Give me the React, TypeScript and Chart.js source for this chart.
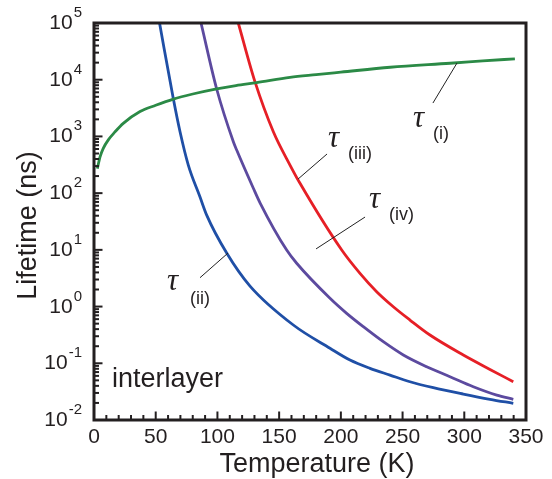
import React, { useEffect, useRef } from "react";
import { Chart, registerables } from "chart.js";

Chart.register(...registerables);

// ---- data (temperature in K, lifetime in ns) ----
const tempI = [2.7, 4.9, 7.5, 11.6, 17, 23.7, 37.3, 50, 64.3, 80, 99.4, 115, 131.8, 158.8, 180, 200, 240, 288.5, 315, 341];
const tauI = [270, 436, 617, 871, 1200, 1700, 2750, 3550, 4560, 5600, 6900, 7900, 8900, 11000, 12300, 13600, 16600, 19500, 21400, 23400];

const tempII = [53.1, 64.2, 69.7, 76.4, 85.9, 91.3, 107.5, 126.4, 161.5, 191.2, 207.4, 223.6, 239.8, 256, 274.9, 299.2, 320.8, 339.7];
const tauII = [100000, 4700, 1210, 313, 85.5, 41, 8.8, 2.3, 0.473, 0.184, 0.114, 0.0815, 0.062, 0.0473, 0.0372, 0.0287, 0.0232, 0.0197];

const tempIII = [116.9, 130.4, 145.3, 158.8, 166.9, 200.7, 215.5, 229, 242.5, 256, 272.2, 299.2, 320.8, 339.7];
const tauIII = [100000, 9230, 1210, 313, 149, 9.93, 3.85, 1.83, 0.993, 0.579, 0.315, 0.14, 0.078, 0.0473];

const tempIV = [86.7, 99.4, 112.9, 115.6, 129.1, 134.5, 156.1, 164.2, 191.2, 204.7, 218.2, 234.4, 250.6, 269.5, 288.4, 307.3, 326.3, 339.7];
const tauIV = [100000, 6860, 807, 575, 122, 67.6, 9.9, 5.8, 1.4, 0.76, 0.442, 0.24, 0.14, 0.0869, 0.058, 0.0386, 0.0275, 0.0232];

const xTicks = [0, 50, 100, 150, 200, 250, 300, 350];
const xTickLabels = ["0", "50", "100", "150", "200", "250", "300", "350"];
const yExponents = [-2, -1, 0, 1, 2, 3, 4, 5];
const yExponentLabels = ["-2", "-1", "0", "1", "2", "3", "4", "5"];

// annotation anchors in data space: [T, lifetime]
const labelSubs = ["(i)", "(ii)", "(iii)", "(iv)"];
const labelTauAt = [[258.4, 1470], [59.1, 1.96], [189.6, 650], [222.8, 54.7]];
const labelSubAt = [[274.6, 900], [77.8, 1.11], [205.8, 400], [239, 33.6]];
const leaderFrom = [[274.6, 3880], [85.9, 3.23], [165.3, 177], [179.9, 10.4]];
const leaderTo = [[294.1, 19700], [108.6, 8.8], [188.8, 490], [219.6, 37.9]];
const panelLabel = "interlayer";
const panelLabelAt = [14.6, 0.0381];

const xTitle = "Temperature (K)";
const yTitle = "Lifetime (ns)";

const INK = "#231f20";
const SANS = '"Liberation Sans", Arial, Helvetica, sans-serif';

const pts = (xs: number[], ys: number[]) => xs.map((x, i) => ({ x, y: ys[i] }));

const framePlugin = {
  id: "framePlugin",
  afterDatasetsDraw(chart: any) {
    const { ctx, chartArea: a } = chart;
    const xs = chart.scales.x;
    const ys = chart.scales.y;
    ctx.save();
    ctx.strokeStyle = INK;
    ctx.fillStyle = INK;
    ctx.lineCap = "butt";

    // inward ticks: left (log) axis
    ctx.lineWidth = 2;
    for (let e = -2; e < 5; e++) {
      for (let m = 1; m < 10; m++) {
        const py = ys.getPixelForValue(m * Math.pow(10, e));
        const len = m === 1 ? 8.5 : 5;
        ctx.beginPath();
        ctx.moveTo(a.left, py);
        ctx.lineTo(a.left + len, py);
        ctx.stroke();
      }
    }
    // bottom axis ticks
    for (let t = 0; t <= 350; t += 10) {
      const px = xs.getPixelForValue(t);
      const len = t % 50 === 0 ? 8.5 : 5;
      ctx.beginPath();
      ctx.moveTo(px, a.bottom);
      ctx.lineTo(px, a.bottom - len);
      ctx.stroke();
    }

    // frame
    ctx.lineWidth = 3;
    ctx.strokeRect(a.left, a.top, a.right - a.left, a.bottom - a.top);

    // x tick labels
    ctx.font = `21px ${SANS}`;
    ctx.textAlign = "center";
    ctx.textBaseline = "alphabetic";
    xTicks.forEach((t, i) => {
      ctx.fillText(xTickLabels[i], xs.getPixelForValue(t), a.bottom + 23);
    });

    // y tick labels with superscript exponents
    const right = a.left - 12;
    yExponents.forEach((e, i) => {
      const py = ys.getPixelForValue(Math.pow(10, e));
      ctx.font = `15px ${SANS}`;
      const ew = ctx.measureText(yExponentLabels[i]).width;
      ctx.textAlign = "left";
      ctx.fillText(yExponentLabels[i], right - ew, py - 6);
      ctx.font = `21px ${SANS}`;
      ctx.textAlign = "right";
      ctx.fillText("10", right - ew - 1, py + 6);
    });

    // axis titles
    ctx.font = `27px ${SANS}`;
    ctx.textAlign = "center";
    ctx.fillText(xTitle, (a.left + a.right) / 2 + 7, a.bottom + 52);
    ctx.save();
    ctx.translate(36, (a.top + a.bottom) / 2 + 4);
    ctx.rotate(-Math.PI / 2);
    ctx.fillText(yTitle, 0, 0);
    ctx.restore();

    // panel label
    ctx.textAlign = "left";
    ctx.font = `27px ${SANS}`;
    ctx.fillText(panelLabel, xs.getPixelForValue(panelLabelAt[0]), ys.getPixelForValue(panelLabelAt[1]));

    // curve annotations
    ctx.lineWidth = 1;
    ctx.strokeStyle = "#222";
    for (let i = 0; i < labelSubs.length; i++) {
      ctx.beginPath();
      ctx.moveTo(xs.getPixelForValue(leaderFrom[i][0]), ys.getPixelForValue(leaderFrom[i][1]));
      ctx.lineTo(xs.getPixelForValue(leaderTo[i][0]), ys.getPixelForValue(leaderTo[i][1]));
      ctx.stroke();
      ctx.font = `italic 31px "Liberation Serif", "DejaVu Serif", serif`;
      ctx.fillText("τ", xs.getPixelForValue(labelTauAt[i][0]), ys.getPixelForValue(labelTauAt[i][1]));
      ctx.font = `18px ${SANS}`;
      ctx.fillText(labelSubs[i], xs.getPixelForValue(labelSubAt[i][0]), ys.getPixelForValue(labelSubAt[i][1]));
    }
    ctx.restore();
  },
};

export default function App() {
  const ref = useRef<HTMLCanvasElement | null>(null);
  useEffect(() => {
    if (!ref.current) return;
    const line = (data: any, color: string) => ({
      data,
      borderColor: color,
      backgroundColor: color,
      borderWidth: 2.8,
      pointRadius: 0,
      fill: false,
      cubicInterpolationMode: "monotone" as const,
    });
    const chart = new Chart(ref.current, {
      type: "line",
      data: {
        datasets: [
          line(pts(tempI, tauI), "#2b8a46"),
          line(pts(tempII, tauII), "#1f4fa6"),
          line(pts(tempIV, tauIV), "#5c4a9f"),
          line(pts(tempIII, tauIII), "#e61f26"),
        ],
      },
      options: {
        animation: false,
        responsive: false,
        devicePixelRatio: 1,
        layout: { padding: { left: 94, right: 26, top: 23, bottom: 59 } },
        plugins: { legend: { display: false }, tooltip: { enabled: false } },
        events: [],
        scales: {
          x: { type: "linear", min: 0, max: 350, display: false },
          y: { type: "logarithmic", min: 0.01, max: 100000, display: false },
        },
      },
      plugins: [framePlugin],
    });
    return () => chart.destroy();
  }, []);
  return (
    <div style={{ position: "absolute", left: 0, top: 0, width: 552, height: 479, background: "#fff" }}>
      <canvas ref={ref} width={552} height={479} />
    </div>
  );
}
